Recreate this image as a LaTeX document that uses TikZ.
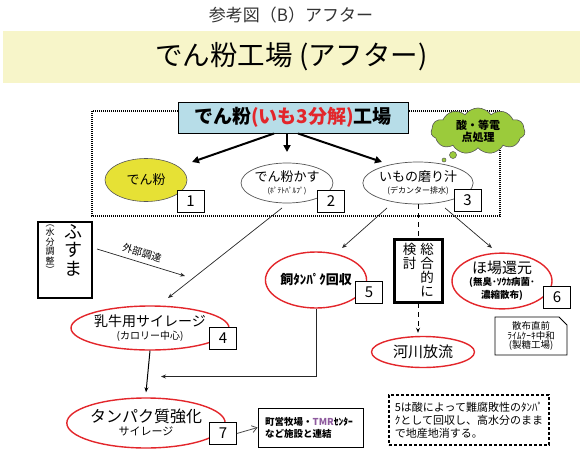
\documentclass[tikz,border=0pt]{standalone}
\usepackage{fontspec}
\setmainfont{Noto Sans CJK JP}
\usetikzlibrary{shapes.geometric,shapes.symbols,shapes.misc,arrows.meta,calc}
\definecolor{band}{HTML}{F7F5C9}
\definecolor{tbox}{HTML}{B7DDE8}
\definecolor{yel}{HTML}{E6E135}
\definecolor{redl}{HTML}{E3262B}
\definecolor{grn}{HTML}{9BCB3B}
\definecolor{lgray}{HTML}{555555}
\definecolor{tmr}{HTML}{8E5A9E}
\newcommand{\fs}[1]{\fontsize{#1}{#1}\selectfont}
\newcommand{\fsb}[2]{\fontsize{#1}{#2}\selectfont}
\tikzset{
  el/.style={ellipse, inner sep=0pt, align=center},
  gel/.style={el, draw=lgray, line width=0.7pt},
  rel/.style={el, draw=redl, line width=1.4pt},
  numbox/.style={draw, fill=white, line width=0.7pt, minimum width=27pt, minimum height=22pt, inner sep=0pt, font=\fs{15}},
  thinarr/.style={draw=black!85, line width=0.7pt, -{Stealth[length=5pt,width=4pt]}},
  thickarr/.style={line width=2pt, -{Triangle[length=7pt,width=7pt]}},
  notebox/.style={chamfered rectangle, chamfered rectangle corners=north east, chamfered rectangle xsep=4pt, chamfered rectangle ysep=4pt, draw, line width=0.8pt, inner sep=0pt},
}
\begin{document}
\begin{tikzpicture}[x=1pt,y=-1pt]
\useasboundingbox (0,0) rectangle (583,455);
% top title
\node (ttl) at (291,15) {\color{black!80}\fs{17}参考図（B）アフター};
\node (band) [fill=band, minimum width=577pt, minimum height=52pt, inner sep=0pt] at (291.5,57) {\fs{27.5}でん粉工場 (アフター)};
% dotted region
\draw[line width=1.1pt, dash pattern=on 1pt off 1pt] (92,111) rectangle (500,216);
% cloud
\node (cl) [cloud, cloud puffs=11, cloud puff arc=110, aspect=2.2, fill=grn, draw=lgray, line width=0.6pt, minimum width=94pt, minimum height=46pt, inner sep=0pt, align=center, font=\bfseries\fs{11}] at (478,131) {酸・等電\\[1pt]点処理};
\node (bub1) [circle, fill=grn, draw=lgray, line width=0.5pt, minimum size=7pt, inner sep=0pt] at (453,155) {};
\node (bub2) [circle, fill=grn, draw=lgray, line width=0.5pt, minimum size=4pt, inner sep=0pt] at (444,160) {};
% title box
\node (tb) [draw, fill=tbox, line width=1pt, minimum width=230pt, minimum height=31pt, inner sep=0pt, font=\bfseries\fs{19}] at (293,117.5) {でん粉\textcolor{redl}{(いも3分解)}工場};
% ellipses row 1
\node (e1) [el, fill=yel, draw=lgray, line width=0.6pt, minimum width=82pt, minimum height=43pt, font=\fs{13}] at (146,180) {でん粉};
\node (b1) [numbox] at (190.5,201) {1};
\node (e2) [gel, minimum width=84pt, minimum height=40pt, fill=white] at (287,183) {\fs{13}でん粉かす\\[0pt]\fs{7.5}(ﾎﾟﾃﾄﾊﾟﾙﾌﾟ)};
\node (b2) [numbox] at (331,201) {2};
\node (e3) [gel, minimum width=82pt, minimum height=42pt, fill=white] at (418,183) {\fs{13}いもの磨り汁\\[0pt]\fs{8}(デカンター排水)};
\node (b3) [numbox] at (467.5,200.5) {3};
% arrows from title box
\coordinate (a1) at (192,162);
\coordinate (a2) at (287,152);
\coordinate (a3) at (382,162);
\draw[thickarr] ([xshift=-19pt]tb.south) -- (a1);
\draw[thickarr] ([xshift=-6pt]tb.south) -- (a2);
\draw[thickarr] ([xshift=5pt]tb.south) -- (a3);
% fusuma
\node (fu) [draw, line width=1.5pt, minimum width=54pt, minimum height=76pt, inner sep=0pt] at (65,260) {};
\node (fu1) [align=center, inner sep=0pt, font=\fsb{18}{18.5}] at (73,250) {ふ\\す\\ま};
\node (fu2) [align=center, inner sep=0pt, font=\fsb{9}{9.5}] at (50,249) {︵\\水\\分\\調\\整\\︶};
% external procurement
\coordinate (g1) at (97,249);
\coordinate (g2) at (185,276);
\draw[thinarr] (g1) -- node[sloped, above=1.5pt, font=\fs{10}, pos=0.48] {外部調達} (g2);
% row 2 ellipses
\node (e4) [rel, minimum width=124pt, minimum height=44pt, fill=white] at (150,328) {\fs{14}乳牛用サイレージ\\[1pt]\fs{10}(カロリー中心)};
\node (b4) [numbox] at (223,338) {4};
\node (e5) [rel, minimum width=98pt, minimum height=56pt, fill=white, font=\bfseries\fs{13}] at (316,280) {飼ﾀﾝﾊﾟｸ回収};
\node (b5) [numbox] at (369,292) {5};
\node (e6) [rel, minimum width=100pt, minimum height=55pt, fill=white] at (502,281) {\fs{15}ほ場還元\\[0pt]\bfseries\fs{9.5}(無臭･ｿｳｶ病菌･\\[1pt]\bfseries\fs{9.5}濃縮散布)};
\node (b6) [numbox] at (557,297) {6};
\node (n6) [notebox, align=center, minimum width=72pt, minimum height=38pt, fill=white, font=\fs{9.5}] at (531,336) {散布直前\\[0pt]ﾗｲﾑｹｰｷ中和\\[0pt](製糖工場)};
% arrows to e4, e5, e6
\coordinate (c2a) at (282,208);
\coordinate (c4a) at (168,298);
\draw[thinarr] (c2a) -- (c4a);
\coordinate (c3a) at (387,208);
\coordinate (c5a) at (342,248);
\draw[thinarr] (c3a) -- (c5a);
\coordinate (c3b) at (445,208);
\coordinate (c6a) at (492,248);
\draw[thinarr] (c3b) -- (c6a);
% dashed to river
\node (e8) [rel, minimum width=103pt, minimum height=31pt, fill=white, font=\fs{15}] at (423,352) {河川放流};
\draw[line width=1pt, dash pattern=on 5pt off 4pt, -{Stealth[length=5pt,width=4pt]}] (e3.south) -- ([yshift=3pt]e3.south |- e8.north);
\node (sg) [draw, line width=3pt, fill=white, minimum width=48pt, minimum height=63pt, inner sep=0pt] at (418,270.5) {};
\node (sg1) [align=center, inner sep=0pt, font=\fsb{13.5}{14}] at (427,270) {総\\合\\的\\に};
\node (sg2) [align=center, inner sep=0pt, font=\fsb{13.5}{14}] at (409.5,256.5) {検\\討};
% silage
\node (e7) [rel, minimum width=136pt, minimum height=50pt, fill=white] at (146,423) {\fs{16}タンパク質強化\\[1pt]\fs{11}サイレージ};
\node (b7) [numbox] at (223,433.5) {7};
\draw[line width=1pt, -{Stealth[length=5pt,width=4pt]}] (e4.south) -- ([yshift=5pt]e7.north);
\coordinate (m4) at (161,376.5);
\draw[thinarr] (e5.south) -- (e5.south |- m4) -- (m4);
\node (n7) [notebox, minimum width=105pt, minimum height=39pt, fill=white] at (310.5,427.5) {};
\node (n7t) [anchor=west, align=left, inner sep=0pt, font=\bfseries\fs{9.5}] at (265,427.5) {町営牧場・\textcolor{tmr}{TMR}ｾﾝﾀｰ\\[2.5pt]など施設と連結};
\draw[draw=black!70, line width=0.8pt, -{Straight Barb[length=5pt,width=7pt]}] (b7.east) -- (n7.west);
% dashed note
\node (dn) [draw, line width=1.1pt, dash pattern=on 3pt off 2pt, minimum width=160pt, minimum height=50pt, inner sep=3pt, align=left, font=\fs{11}] at (469,420) {5は酸によって難腐敗性のﾀﾝﾊﾟ\\[2pt]ｸとして回収し、高水分のまま\\[2pt]で地産地消する。};
\end{tikzpicture}
\end{document}
